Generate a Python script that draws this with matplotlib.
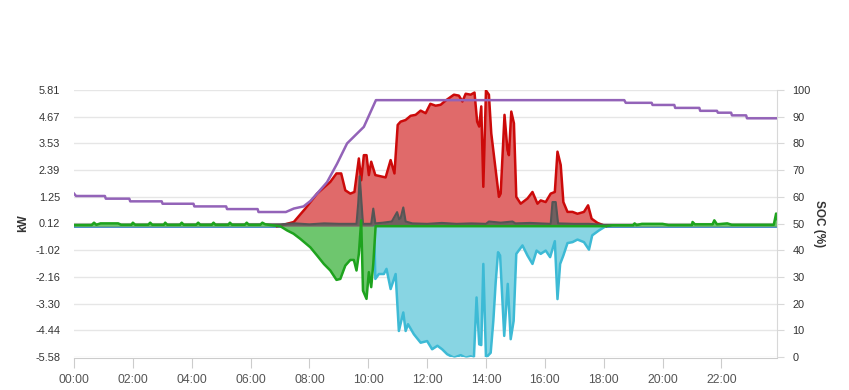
import matplotlib.pyplot as plt

plt.rcParams['font.family'] = ['Liberation Sans', 'DejaVu Sans']

# PV production (kW)
pv_t = [6.9, 7.0, 7.47, 7.86, 8.26, 8.71, 8.92, 9.08, 9.22, 9.39, 9.53, 9.68, 9.76, 9.85, 9.94,
        10.02, 10.10, 10.24, 10.59, 10.76, 10.89, 11.0, 11.1, 11.27, 11.44, 11.61, 11.78, 11.95,
        12.11, 12.29, 12.46, 12.63, 12.91, 13.08, 13.2, 13.31, 13.48, 13.61, 13.70, 13.77, 13.84,
        13.91, 14.0, 14.1, 14.18, 14.33, 14.44, 14.50, 14.63, 14.73, 14.78, 14.86, 14.95, 15.03,
        15.18, 15.41, 15.58, 15.75, 15.86, 16.03, 16.2, 16.34, 16.43, 16.54, 16.63, 16.77, 16.94,
        17.11, 17.33, 17.47, 17.59, 17.79, 18.07]
pv_kw = [0, 0.02, 0.18, 0.75, 1.39, 1.89, 2.25, 2.25, 1.53, 1.39, 1.46, 2.89, 1.96, 3.03, 3.03,
         2.18, 2.75, 2.18, 2.08, 2.82, 2.25, 4.32, 4.46, 4.53, 4.71, 4.75, 4.93, 4.82,
         5.22, 5.14, 5.18, 5.36, 5.61, 5.57, 5.32, 5.65, 5.61, 5.70, 4.46, 4.25, 5.11,
         1.68, 5.79, 5.61, 3.96, 2.39, 1.25, 1.39, 4.75, 3.25, 3.03, 4.89, 4.39, 1.25,
         0.96, 1.18, 1.46, 0.96, 1.10, 1.03, 1.39, 1.46, 3.18, 2.61, 1.03, 0.61, 0.61,
         0.53, 0.61, 0.89, 0.32, 0.14, 0]

# house consumption (kW)
load_t = [0, 7.0, 7.5, 8.0, 8.5, 9.0, 9.6, 9.66, 9.71, 9.77, 9.82, 10.1, 10.17, 10.24, 10.5, 10.8,
          10.98, 11.05, 11.1, 11.19, 11.27, 11.5, 12.0, 12.5, 13.0, 13.5, 14.0, 14.1, 14.5, 14.9,
          15.0, 15.5, 16.2, 16.26, 16.37, 16.45, 17.0, 17.5, 18.0, 23.9]
load_kw = [0.06, 0.08, 0.12, 0.08, 0.12, 0.1, 0.1, 1.0, 2.13, 1.0, 0.1, 0.1, 0.75, 0.12, 0.15, 0.2,
           0.6, 0.3, 0.35, 0.8, 0.2, 0.12, 0.1, 0.14, 0.1, 0.12, 0.1, 0.2, 0.15, 0.2,
           0.12, 0.14, 0.1, 1.03, 1.03, 0.12, 0.1, 0.1, 0.06, 0.06]

# battery (kW, + discharge / - charge)
bat_t = [0, 0.6, 0.68, 0.76, 0.9, 1.5, 1.6, 1.95, 2.0, 2.08, 2.52, 2.59, 2.66, 3.05, 3.1, 3.17,
         3.6, 3.66, 3.73, 4.15, 4.22, 4.29, 4.68, 4.74, 4.81, 5.24, 5.3, 5.37, 5.8, 5.87, 5.94,
         6.33, 6.4, 6.5, 6.67, 7.01, 7.24, 7.46, 7.69, 8.03, 8.26, 8.49, 8.71, 8.92, 9.05, 9.22,
         9.39, 9.51, 9.60, 9.68, 9.76, 9.82, 9.94, 10.02, 10.10, 10.17, 10.25, 18.07, 18.3, 19.0,
         19.05, 19.12, 19.3, 20.0, 20.2, 21.0, 21.02, 21.1, 21.7, 21.76, 21.85, 22.2, 22.35,
         23.78, 23.86, 23.9]
bat_kw = [0.05, 0.05, 0.15, 0.06, 0.12, 0.12, 0.06, 0.06, 0.15, 0.06, 0.06, 0.15, 0.06, 0.06, 0.15, 0.06,
          0.06, 0.15, 0.06, 0.06, 0.15, 0.06, 0.06, 0.15, 0.06, 0.06, 0.15, 0.06, 0.06, 0.15, 0.06,
          0.06, 0.15, 0.08, 0.05, 0, -0.18, -0.32, -0.54, -0.9, -1.25, -1.61, -1.89, -2.29, -2.25, -1.68,
          -1.44, -1.44, -1.89, -1.18, 0.25, -2.75, -3.1, -1.96, -2.6, -1.61, 0, 0, 0.04, 0.04,
          0.12, 0.05, 0.1, 0.1, 0.05, 0.05, 0.18, 0.08, 0.08, 0.25, 0.08, 0.12, 0.06,
          0.06, 0.54, 0.3]

# grid export (kW, negative)
grid_t = [10.2, 10.24, 10.36, 10.53, 10.62, 10.76, 10.93, 11.04, 11.19, 11.27, 11.35, 11.55, 11.78,
          12.0, 12.17, 12.35, 12.51, 12.68, 12.91, 13.14, 13.31, 13.48, 13.59, 13.68, 13.77, 13.84,
          13.91, 14.0, 14.16, 14.25, 14.33, 14.41, 14.48, 14.62, 14.74, 14.84, 14.94, 15.03, 15.24,
          15.41, 15.58, 15.72, 15.86, 16.03, 16.18, 16.34, 16.43, 16.52, 16.63, 16.77, 16.94, 17.11,
          17.33, 17.50, 17.61, 17.84, 18.07]
grid_kw = [0, -2.25, -2.04, -2.04, -1.82, -2.68, -2.04, -4.47, -3.68, -4.47, -4.18, -4.61, -4.97,
           -4.9, -5.25, -5.1, -5.25, -5.46, -5.61, -5.5, -5.61, -5.55, -5.61, -3.04, -5.04, -5.07,
           -1.61, -5.61, -5.4, -4.04, -2.39, -1.11, -1.25, -4.68, -2.46, -4.82, -4.04, -1.18, -0.82,
           -1.25, -1.61, -1.04, -1.18, -1.04, -1.32, -0.64, -3.11, -1.61, -1.25, -0.72, -0.68, -0.57,
           -0.68, -1.0, -0.39, -0.18, 0]

# battery state of charge (%)
soc_t = [0, 0.07, 1.05, 1.08, 1.88, 1.91, 2.98, 3.01, 4.06, 4.09, 5.17, 5.2, 6.24, 6.27, 7.2,
         7.47, 7.8, 8.03, 8.26, 8.6, 8.94, 9.28, 9.62, 9.85, 10.26, 18.7, 18.75, 19.63, 19.66,
         20.4, 20.43, 21.25, 21.28, 21.85, 21.88, 22.33, 22.36, 22.84, 22.87, 23.9]
soc = [61.2, 60.3, 60.3, 59.3, 59.3, 58.3, 58.3, 57.4, 57.4, 56.4, 56.4, 55.4, 55.4, 54.3, 54.3,
       55.6, 56.4, 58.4, 61.2, 65.5, 72.4, 80.0, 83.7, 86.2, 96.2, 96.2, 95.2, 95.2, 94.4,
       94.4, 93.3, 93.3, 92.2, 92.2, 91.5, 91.5, 90.5, 90.5, 89.4, 89.4]

kw_ticks = [5.81, 4.67, 3.53, 2.39, 1.25, 0.12, -1.02, -2.16, -3.30, -4.44, -5.58]
hour_ticks = list(range(0, 24, 2))
hour_labels = ['%02d:00' % h for h in hour_ticks]

fig = plt.figure(figsize=(8.49, 3.90), dpi=100)
ax = fig.add_axes([74 / 849, 33 / 390, 703.3 / 849, 267 / 390])

ax.plot([0, 23.9], [0, 0], color='#3b83c4', lw=2, zorder=2)

ax.fill_between(pv_t, 0, pv_kw, color='#e06a6a', lw=0, zorder=3)
ax.plot(pv_t, pv_kw, color='#cc0a0a', lw=1.8, zorder=4)

ax.fill_between(load_t, 0, load_kw, color='#5f5f5f', alpha=0.85, lw=0, zorder=5)
ax.plot(load_t, load_kw, color='#555555', lw=1.5, zorder=6)

ax.fill_between(grid_t, 0, grid_kw, color='#88d5e3', lw=0, zorder=3)
ax.plot(grid_t, grid_kw, color='#3dbad5', lw=1.8, zorder=4)

ax.fill_between(bat_t, 0, bat_kw, color='#6ec66e', lw=0, zorder=7)
ax.plot(bat_t, bat_kw, color='#1ea31e', lw=1.8, zorder=8)

ax.set_xlim(0, 23.9)
ax.set_ylim(-5.58, 5.81)
ax.set_yticks(kw_ticks)
ax.set_yticklabels(['%.2f' % v for v in kw_ticks])
ax.set_xticks(hour_ticks)
ax.set_xticklabels(hour_labels)
ax.grid(axis='y', color='#e6e6e6', lw=1)
ax.set_axisbelow(True)
for s in ['top', 'left', 'right']:
    ax.spines[s].set_visible(False)
ax.spines['bottom'].set_color('#cccccc')
ax.spines['bottom'].set_position(('outward', 1))
ax.tick_params(axis='x', colors='#cccccc', length=7, labelcolor='#555555', labelsize=8.8, pad=4)
ax.tick_params(axis='y', length=0, labelcolor='#333333', labelsize=7.9, pad=10)
ax.set_ylabel('kW', fontsize=8.5, fontweight='bold', color='#333333', labelpad=4)

ax2 = ax.twinx()
ax2.plot(soc_t, soc, color='#9363b8', lw=1.8, zorder=9)
ax2.set_ylim(0, 100)
ax2.set_yticks(range(0, 101, 10))
for s in ['top', 'left', 'bottom']:
    ax2.spines[s].set_visible(False)
ax2.spines['right'].set_color('#d8d8d8')
ax2.tick_params(axis='y', colors='#d8d8d8', length=5, labelcolor='#333333', labelsize=7.9, pad=6)
ax2.set_ylabel('SOC (%)', fontsize=8.5, fontweight='bold', color='#333333', rotation=270, labelpad=10)

fig.savefig('out.png', dpi=100)
